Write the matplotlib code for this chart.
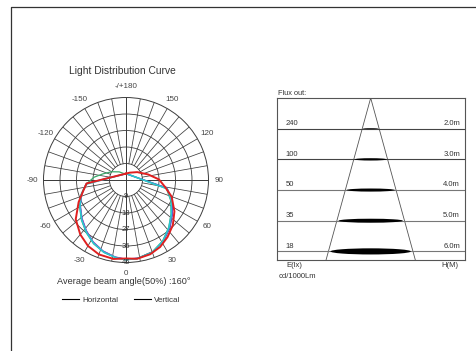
import numpy as np
import matplotlib
matplotlib.use('Agg')
import matplotlib.pyplot as plt
from matplotlib.lines import Line2D
from matplotlib.patches import Ellipse
import matplotlib.transforms as mtransforms

plt.rcParams['font.family'] = ['Liberation Sans', 'DejaVu Sans']

# polar data (deg, cd/1000lm) =========================================================
# horizontal plane (red)
horiz_ang = [180, 153, 125, 104, 91, 80, 70, 57, 46, 36, 27, 18, 8, 0,
             -9, -20, -30, -40, -52, -65, -76, -85, 180]
horiz_val = [3.5, 4.5, 7.5, 12.5, 18.0, 21.6, 26.5, 31.5, 35.5, 38.5, 41.0, 42.6, 43.4, 42.8,
             43.6, 43.2, 41.5, 38.8, 34.8, 28.5, 24.0, 21.6, 3.5]

# vertical planes (cyan, blue, green)
vert1_ang = [180, 78, 65, 53, 42, 31, 20, 8, 0, -7, -17, -27, -37, -48, -60, -72, -84, 180]
vert1_val = [3.5, 23.0, 27.3, 31.0, 35.0, 39.0, 42.0, 43.3, 43.5, 42.8, 41.2, 38.8, 35.8,
             32.5, 29.0, 25.6, 21.8, 3.5]

vert2_ang = [180, 79, 66, 54, 43, 32, 21, 9, 0, -8, -18, -28, -38, -49, -61, -73, -85, 180]
vert2_val = [3.5, 22.8, 27.5, 31.4, 35.3, 39.0, 41.8, 43.2, 43.3, 42.5, 40.8, 38.3, 35.2,
             31.9, 28.6, 25.3, 21.6, 3.5]

vert3_ang = [180, 78, 65, 53, 42, 31, 20, 8, 0, -7, -17, -27, -37, -48, -60, -72, -84,
             -95, -105, -120, -140, -160, 180]
vert3_val = [3.5, 22.6, 27.0, 30.8, 34.8, 38.8, 41.8, 43.2, 43.4, 42.9, 41.3, 39.0, 36.0,
             32.7, 29.2, 25.8, 21.9, 17.5, 13.0, 9.0, 5.8, 3.8, 3.5]

ring_vals = [9, 18, 27, 36, 45]
theta_ticks = [0, 30, 60, 90, 120, 150, 180, 210, 240, 270, 300, 330]
theta_labels = ['0', '30', '60', '90', '120', '150', '-/+180', '-150', '-120', '-90', '-60', '-30']

# flux diagram data ===================================================================
heights = [2.0, 3.0, 4.0, 5.0, 6.0]
lux = [240, 100, 50, 35, 18]
h_labels = ['2.0m', '3.0m', '4.0m', '5.0m', '6.0m']
spot_h = [0.03, 0.075, 0.10, 0.13, 0.20]   # drawn thickness of the light spots

txt = '#333333'
grid_c = '#3c3c3c'

fig = plt.figure(figsize=(4.77, 3.51), dpi=100)

# page frame (left + top border)
fig.add_artist(Line2D([11/477, 11/477, 1.0], [0.0, 1 - 6.7/351, 1 - 6.7/351],
                      transform=fig.transFigure, color='#333333', lw=0.9))

# POLAR CURVE =========================================================================
ax = fig.add_axes([0.0912, 0.2521, 0.3459, 0.4701], projection='polar')
ax.set_theta_zero_location('S')
ax.set_theta_direction(1)
ax.set_ylim(0, 45)
ax.set_rgrids(ring_vals[:-1], labels=['']*4)
ax.yaxis.grid(True, color=grid_c, lw=0.6)
ax.set_thetagrids(theta_ticks, ['']*len(theta_ticks))
ax.xaxis.grid(False)
ax.spines['polar'].set_color(grid_c)
ax.spines['polar'].set_linewidth(0.7)

# angle labels just outside the rim
for a, lab in zip(theta_ticks, theta_labels):
    ax.text(np.deg2rad(a), 50.8, lab, ha='center', va='center', fontsize=5.8,
            color='#444444', clip_on=False)

# spokes every 10 deg from the first ring outwards
for a in range(0, 360, 10):
    ax.plot([np.deg2rad(a)]*2, [9, 45], color=grid_c, lw=0.55, zorder=1)
# full cross through the centre
ax.plot(np.deg2rad([0, 180]), [45, 45], color=grid_c, lw=0.7, zorder=1)
ax.plot(np.deg2rad([90, 270]), [45, 45], color=grid_c, lw=0.7, zorder=1)

for r in ring_vals:
    ax.text(0, r, str(r), ha='center', va='center', fontsize=5.5, color='#333333', zorder=4)

ax.plot(np.deg2rad(vert2_ang), vert2_val, color='#3a4fd0', lw=0.9, zorder=2)
ax.plot(np.deg2rad(vert2_ang), np.array(vert2_val) - 0.2, color='#9a3fb5', lw=0.7, zorder=2)
ax.plot(np.deg2rad(vert3_ang), vert3_val, color='#3aa86a', lw=0.9, zorder=2)
ax.plot(np.deg2rad(vert1_ang), vert1_val, color='#29c6d6', lw=1.1, zorder=2)
ax.plot(np.deg2rad(horiz_ang), horiz_val, color='#e02020', lw=1.4, zorder=3)

fig.text(122.3/477, 1 - 70.7/351, 'Light Distribution Curve', ha='center', va='center',
         fontsize=7.4, color=txt)
fig.text(124/477, 1 - 281.7/351, 'Average beam angle(50%) :160°', ha='center', va='center',
         fontsize=6.6, color=txt)

handles = [Line2D([], [], color='black', lw=0.8), Line2D([], [], color='black', lw=0.8)]
fig.legend(handles, ['Horizontal', 'Vertical'], loc='center', bbox_to_anchor=(121/477, 1 - 300.3/351),
           ncol=2, frameon=False, fontsize=5.8, handlelength=2.2, handletextpad=0.35,
           columnspacing=1.9, labelcolor=txt)

# FLUX DIAGRAM ========================================================================
ax2 = fig.add_axes([277.3/477, 1 - 260.3/351, 187.7/477, 162.3/351])
ax2.set_xlim(-3.04, 3.07)
ax2.set_ylim(6.29, 1.0)
ax2.set_xticks([])
ax2.set_yticks([])
for s in ax2.spines.values():
    s.set_color('#555555')
    s.set_linewidth(0.8)

slope = 1.456 / 5.29
ax2.plot([-slope*5.29, 0, slope*5.29], [6.29, 1.0, 6.29], color='#555555', lw=0.6)

trans = mtransforms.blended_transform_factory(ax2.transAxes, ax2.transData)
for i, h in enumerate(heights):
    ax2.axhline(h, color='#444444' if i < 2 else '#777777', lw=0.8)
    w = 2 * slope * (h - 1.0) * 0.95
    ax2.add_patch(Ellipse((0, h), w, spot_h[i], color='black', lw=0, zorder=3))
    ax2.text(0.046, h - 0.06, str(lux[i]), transform=trans, ha='left', va='bottom',
             fontsize=5.5, color=txt)
    ax2.text(0.973, h - 0.06, h_labels[i], transform=trans, ha='right', va='bottom',
             fontsize=5.5, color=txt)

ax2.text(0.002, 1.005, 'Flux out:', transform=ax2.transAxes, ha='left', va='bottom',
         fontsize=5.3, color=txt)
ax2.text(0.046, -0.033, 'E(lx)', transform=ax2.transAxes, ha='left', va='center',
         fontsize=5.5, color=txt)
ax2.text(0.965, -0.033, 'H(M)', transform=ax2.transAxes, ha='right', va='center',
         fontsize=5.5, color=txt)
ax2.text(0.005, -0.101, 'cd/1000Lm', transform=ax2.transAxes, ha='left', va='center',
         fontsize=5.5, color=txt)

fig.savefig('out.png', dpi=100)
